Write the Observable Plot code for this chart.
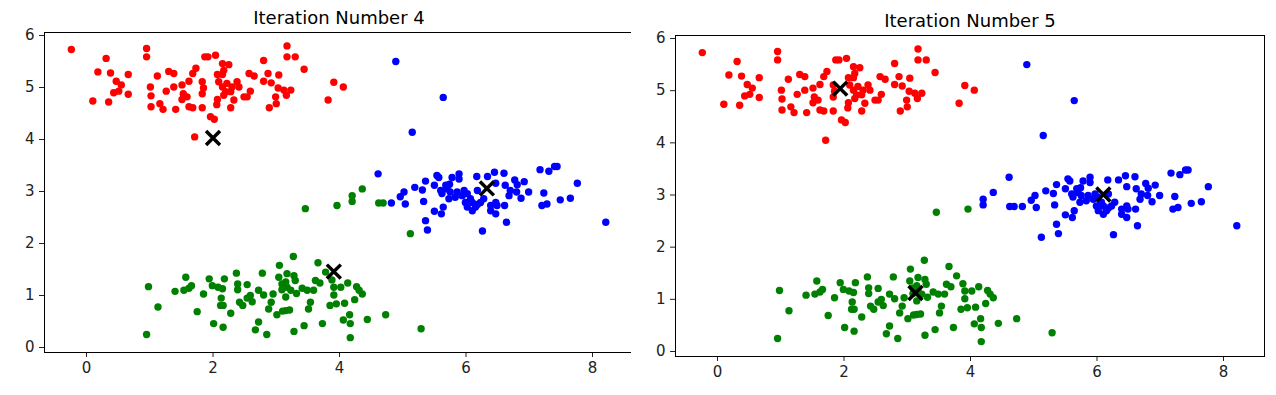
<!DOCTYPE html>
<html><head><meta charset="utf-8">
<script src="https://cdn.jsdelivr.net/npm/d3@7"></script>
<script src="https://cdn.jsdelivr.net/npm/@observablehq/plot@0.6"></script>
<style>
body{margin:0;background:#fff;font-family:"DejaVu Sans",sans-serif;}
#wrap{position:relative;width:1276px;height:395px;overflow:hidden;}
.panel{position:absolute;top:0;}
</style>
</head><body><div id="wrap"></div>
<script>
// cluster points (x, y)
const redPts = [[-0.24,5.73],[0.31,5.56],[0.95,5.75],[0.95,5.59],[0.18,5.30],[0.38,5.28],[0.66,5.25],[0.47,5.12],[0.55,5.05],[0.51,4.93],[0.43,4.90],[0.66,4.87],[0.10,4.74],[0.35,4.72],[1.01,5.01],[1.02,4.84],[1.02,4.63],[1.12,5.22],[1.21,4.58],[1.16,4.69],[1.26,4.93],[1.30,5.31],[1.38,5.27],[1.38,5.01],[1.41,4.58],[1.51,5.05],[1.53,4.88],[1.51,4.77],[1.59,4.82],[1.62,5.12],[1.68,5.27],[1.73,5.37],[1.62,4.63],[1.68,4.61],[1.83,4.61],[1.83,5.11],[1.83,4.88],[1.87,5.59],[1.71,4.05],
[1.92,5.59],[2.04,5.62],[2.15,5.46],[2.25,5.44],[2.17,5.33],[2.07,5.25],[2.15,5.25],[1.85,4.99],[2.07,4.77],[2.06,4.67],[2.15,5.01],[2.22,5.08],[2.30,5.01],[2.20,4.92],[2.28,4.92],[2.38,5.11],[2.41,5.01],[2.17,4.85],[2.33,4.76],[2.28,4.61],[1.96,4.44],[2.02,4.39],[2.49,4.82],[2.54,4.82],[2.59,4.93],[2.57,5.27],[2.65,5.22],[2.80,5.52],[2.87,5.27],[3.04,5.24],[2.80,5.12],[2.92,5.09],[3.03,4.99],[3.12,4.95],[3.23,4.95],[3.16,4.85],[2.99,4.82],[3.00,4.69],[2.89,4.61],[3.17,5.80],[3.17,5.59],[3.30,5.59],[3.44,5.35],[3.91,5.10],[4.06,5.01],[3.82,4.76],[2.09,5.11]];
const greenPts = [[0.98,1.17],[1.13,0.78],[0.95,0.25],[1.40,1.08],[1.54,1.10],[1.62,1.14],[1.66,1.19],[1.57,1.35],[1.75,0.69],[1.85,1.03],[1.94,1.32],[1.99,1.19],[2.08,1.16],[2.15,1.13],[2.18,1.32],[2.13,0.95],[2.12,0.81],[2.16,0.81],[2.01,0.46],[2.16,0.39],[2.28,0.66],[2.37,1.43],[2.39,1.22],[2.39,1.11],[2.54,1.21],[2.42,0.87],[2.47,0.81],[2.54,0.95],[2.59,1.00],[2.62,0.88],[2.72,1.10],[2.78,1.43],[2.80,1.01],[2.72,0.49],[2.67,0.34],[2.85,0.25],[2.88,0.74],[2.92,0.87],[2.95,1.03],[3.01,0.63],[3.05,1.58],[3.04,1.35],[3.09,1.22],[3.09,1.11],[3.10,0.70],
[3.27,1.75],[3.66,1.63],[3.17,1.42],[3.28,1.38],[3.15,1.26],[3.30,1.29],[3.17,1.16],[3.23,1.10],[3.32,1.04],[3.15,0.97],[3.41,1.14],[3.49,1.10],[3.59,1.10],[3.62,1.29],[3.69,1.24],[3.78,1.45],[3.88,1.30],[3.91,1.16],[4.02,1.16],[4.13,1.24],[4.27,1.17],[4.31,1.10],[4.36,1.03],[3.91,1.01],[4.24,0.92],[3.54,0.87],[3.51,0.74],[3.85,0.81],[3.95,0.84],[4.08,0.85],[3.15,0.71],[3.21,0.72],[4.16,0.63],[4.06,0.53],[4.17,0.46],[4.44,0.54],[4.73,0.63],[3.73,0.46],[3.44,0.42],[3.28,0.31],[4.17,0.19],[5.29,0.36],
[3.46,2.67],[3.96,2.73]];
// green in iteration 4, blue in iteration 5
const switchPts = [[4.20,2.92],[4.20,2.81],[4.36,3.05],[4.62,2.78],[4.69,2.78],[5.12,2.19]];
const bluePts = [[4.61,3.34],[4.82,2.78],[4.96,2.90],[5.02,2.99],[5.04,2.76],[5.19,3.08],[5.31,3.03],[5.36,3.20],[5.33,2.81],[5.36,2.44],[5.39,2.26],[5.50,3.12],[5.50,2.62],[5.54,3.31],
[4.89,5.50],[5.64,4.81],[5.15,4.14],
[5.57,3.27],[5.78,3.27],[5.89,3.34],[5.89,3.24],[6.17,3.29],[6.34,3.29],[6.45,3.37],[5.74,3.14],[5.70,3.05],[5.60,3.02],[5.62,2.96],[5.75,2.99],[5.83,2.89],[5.73,2.86],[5.97,3.02],[6.02,2.96],[6.07,2.86],[5.99,2.79],[6.02,2.70],[6.10,2.63],[6.18,2.75],[6.23,2.79],[6.28,2.86],[6.18,3.02],[5.64,2.70],[5.61,2.57],[6.26,2.24],[6.39,2.63],[6.47,2.57],[6.39,2.73],[6.47,2.79],
[6.60,3.35],[6.47,3.16],[6.62,3.12],[6.77,3.22],[6.81,3.13],[6.92,3.19],[6.70,3.02],[6.68,2.92],[6.80,2.99],[6.99,2.99],[6.87,2.87],[6.49,2.73],[6.61,2.73],[6.64,2.41],[7.17,3.42],[7.31,3.39],[7.40,3.48],[7.44,3.48],[7.76,3.16],[7.23,2.97],[7.20,2.73],[7.28,2.76],[7.49,2.84],[7.65,2.87],[8.21,2.41],
[5.68,3.12],[5.86,2.99],[5.94,2.92],[6.10,2.79],[6.15,2.70]];
// centroids
const centroids4 = [[2.00,4.03],[6.33,3.06],[3.91,1.46]];
const centroids5 = [[1.94,5.04],[6.10,3.01],[3.13,1.12]];
const titles = ["Iteration Number 4","Iteration Number 5"];
const xTicks = [0,2,4,6,8];
const yTicks = [0,1,2,3,4,5,6];

const toRows = (arr, c) => arr.map(([x,y]) => ({x, y, c}));
const iter4 = [...toRows(redPts,"red"), ...toRows(greenPts,"green"), ...toRows(switchPts,"green"), ...toRows(bluePts,"blue")];
const iter5 = [...toRows(redPts,"red"), ...toRows(greenPts,"green"), ...toRows(switchPts,"blue"), ...toRows(bluePts,"blue")];

function panel(title, rows, cents, top, bottom) {
  return Plot.plot({
    width: 640, height: 395,
    marginLeft: 44, marginRight: 7, marginTop: top, marginBottom: bottom,
    x: {domain: [-0.664, 8.648], ticks: xTicks, tickSize: 5, tickPadding: 5, tickFormat: d => String(d), label: null},
    y: {domain: [-0.096, 6.058], ticks: yTicks, tickSize: 5, tickPadding: 5, tickFormat: d => String(d), label: null},
    color: {type: "identity"},
    style: {fontFamily: "DejaVu Sans", fontSize: "15px", color: "#222", background: "white"},
    marks: [
      Plot.dot(rows, {x: "x", y: "y", fill: "c", r: 3.7}),
      Plot.dot(cents, {x: d => d[0], y: d => d[1], symbol: "times", stroke: "black", strokeWidth: 3.5, r: 6.4}),
      Plot.frame({stroke: "black", strokeWidth: 1}),
      Plot.text([title], {frameAnchor: "top", lineAnchor: "bottom", dy: -9, fontSize: 18, fill: "black", text: d => d})
    ]
  });
}
const wrap = document.getElementById("wrap");
const p1 = panel(titles[0], iter4, centroids4, 32, 43);
p1.classList.add("panel"); p1.style.left = "0px";
const p2 = panel(titles[1], iter5, centroids5, 35, 39);
p2.classList.add("panel"); p2.style.left = "631px";
wrap.appendChild(p1); wrap.appendChild(p2);
</script>
</body></html>
